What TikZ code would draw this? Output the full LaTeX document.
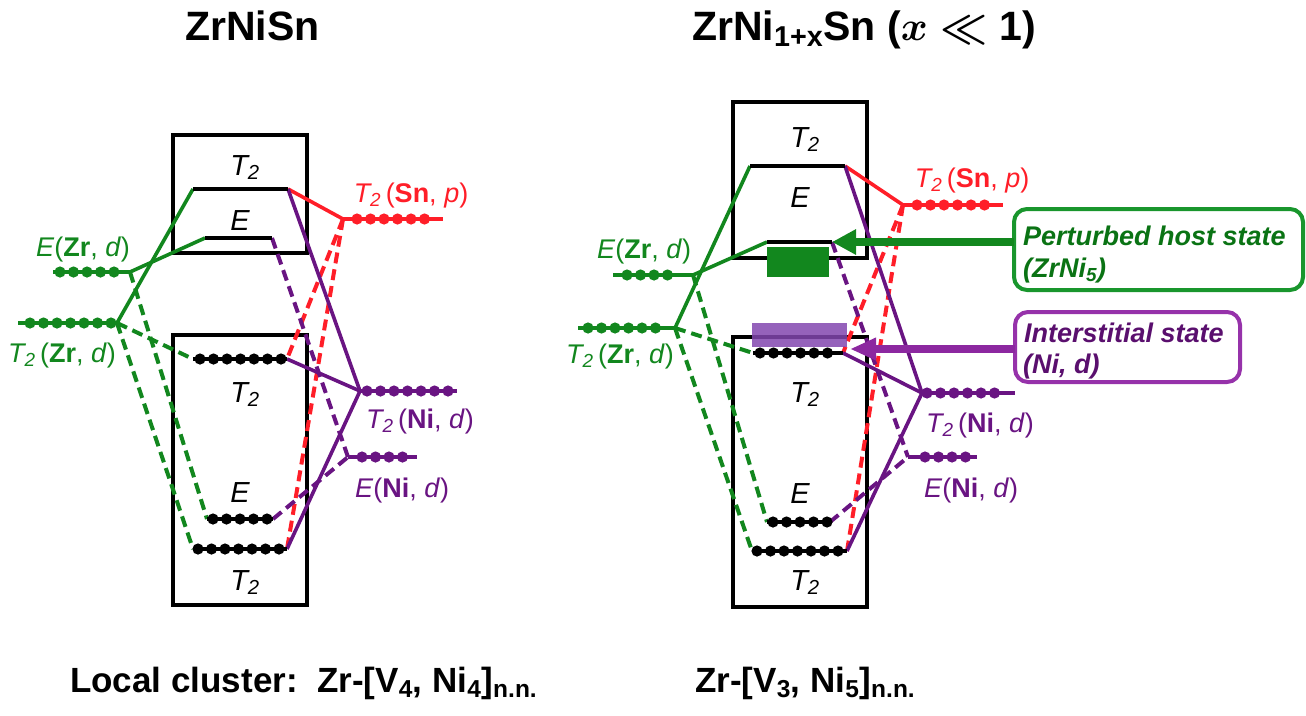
\RequirePackage{fix-cm}
\documentclass[tikz,border=0pt]{standalone}
\usepackage{fontspec}
\setmainfont{Liberation Sans}
\usetikzlibrary{calc,arrows.meta,decorations.markings}
\definecolor{gr}{RGB}{18,135,30}
\definecolor{grtxt}{RGB}{10,115,20}
\definecolor{grbox}{RGB}{25,150,45}
\definecolor{rd}{RGB}{255,30,40}
\definecolor{pu}{RGB}{105,20,130}
\definecolor{pubox}{RGB}{150,50,170}
\definecolor{putxt}{RGB}{90,15,110}
\definecolor{purect}{RGB}{130,70,175}
\definecolor{puarrow}{RGB}{140,40,160}
\newcommand\dotlev[5]{%
  \draw[lv,#1] (#2) -- (#3);
  \path[decorate,decoration={markings,mark=between positions 0 and 1 step 13.5pt with {\fill[#1] (0,0) circle (5.6pt);}}] ($(#2)+(#4,0)$) -- ($(#3)-(#5,0)$);
}
\begin{document}
\begin{tikzpicture}[x=1pt,y=-1pt,
  boxst/.style={draw=black,line width=4.5pt},
  lv/.style={line width=4.5pt},
  sconn/.style={line width=3.6pt},
  dconn/.style={line width=4pt,dash pattern=on 11pt off 6pt},
  lbl/.style={font=\fontsize{27}{32}\selectfont,anchor=base,inner sep=0pt},
  blbl/.style={font=\fontsize{29}{34}\selectfont\itshape,anchor=base,inner sep=0pt},
  ttl/.style={font=\fontsize{41}{48}\selectfont\bfseries,anchor=base west,inner sep=0pt},
  btm/.style={font=\fontsize{35}{40}\selectfont\bfseries,anchor=base west,inner sep=0pt},
  boxtxt/.style={font=\fontsize{27}{32}\selectfont\bfseries\itshape,anchor=base west,inner sep=0pt},
]
\useasboundingbox (0,0) rectangle (1306,715);

% ---------- titles ----------
\node[ttl] (T1) at (185,40) {ZrNiSn};
\node[ttl] (T2) at (692,40) {ZrNi\textsubscript{1+x}Sn ({\boldmath$x \ll$} 1)};
\node[btm] (B1) at (70,692) {Local cluster:\ \ Zr-[V\textsubscript{4}, Ni\textsubscript{4}]\textsubscript{n.n.}};
\node[btm] (B2) at (695,692) {Zr-[V\textsubscript{3}, Ni\textsubscript{5}]\textsubscript{n.n.}};

% ---------- left coordinates ----------
\coordinate (LUT2a) at (193,189); \coordinate (LUT2b) at (288,189);
\coordinate (LUEa) at (205,238);  \coordinate (LUEb) at (272,238);
\coordinate (LLT2a) at (193,359); \coordinate (LLT2b) at (287,359);
\coordinate (LLEa) at (207,519);  \coordinate (LLEb) at (273,519);
\coordinate (LBT2a) at (193,549); \coordinate (LBT2b) at (287,549);
\coordinate (LZrEa) at (53,272);  \coordinate (LZrEb) at (130,272);
\coordinate (LZrTa) at (18,323);  \coordinate (LZrTb) at (117,323);
\coordinate (LSna) at (343,219);  \coordinate (LSnb) at (443,219);
\coordinate (LNiTa) at (360,391); \coordinate (LNiTb) at (457,391);
\coordinate (LNiEa) at (348,457); \coordinate (LNiEb) at (417,457);

% ---------- right coordinates ----------
\coordinate (RUT2a) at (750,166); \coordinate (RUT2b) at (845,166);
\coordinate (RUEa) at (767,242);  \coordinate (RUEb) at (832,242);
\coordinate (RLT2a) at (753,353); \coordinate (RLT2b) at (843,353);
\coordinate (RLEa) at (767,522);  \coordinate (RLEb) at (830,522);
\coordinate (RBT2a) at (752,551); \coordinate (RBT2b) at (847,551);
\coordinate (RZrEa) at (613,275); \coordinate (RZrEb) at (693,275);
\coordinate (RZrTa) at (578,328); \coordinate (RZrTb) at (675,328);
\coordinate (RSna) at (903,205);  \coordinate (RSnb) at (1003,205);
\coordinate (RNiTa) at (922,393); \coordinate (RNiTb) at (1015,393);
\coordinate (RNiEa) at (908,457); \coordinate (RNiEb) at (977,457);

% ---------- boxes ----------
\draw[boxst] (173,135) rectangle (307,253);
\draw[boxst] (173,335) rectangle (307,605);
\draw[boxst] (733,102) rectangle (867,258);
\draw[boxst] (733,337) rectangle (867,607);

% ---------- left connectors ----------
\draw[sconn,gr] (LZrEb) -- (LUEa);
\draw[sconn,gr] (LZrTb) -- (LUT2a);
\draw[dconn,gr] (LZrTb) -- (LLT2a);
\draw[dconn,gr] (LZrTb) -- (LBT2a);
\draw[dconn,gr] (LZrEb) -- (LLEa);
\draw[sconn,rd] (LUT2b) -- (LSna);
\draw[dconn,rd] (LSna) -- (LLT2b);
\draw[dconn,rd] (LSna) -- (LBT2b);
\draw[sconn,pu] (LUT2b) -- (LNiTa);
\draw[sconn,pu] (LLT2b) -- (LNiTa);
\draw[sconn,pu] (LBT2b) -- (LNiTa);
\draw[dconn,pu] (LUEb) -- (LNiEa);
\draw[dconn,pu] (LLEb) -- (LNiEa);

% ---------- right connectors ----------
\draw[sconn,gr] (RZrEb) -- (RUEa);
\draw[sconn,gr] (RZrTb) -- (RUT2a);
\draw[dconn,gr] (RZrTb) -- (RLT2a);
\draw[dconn,gr] (RZrTb) -- (RBT2a);
\draw[dconn,gr] (RZrEb) -- (RLEa);
\draw[sconn,rd] (RUT2b) -- (RSna);
\draw[dconn,rd] (RSna) -- (RLT2b);
\draw[dconn,rd] (RSna) -- (RBT2b);
\draw[sconn,pu] (RUT2b) -- (RNiTa);
\draw[sconn,pu] (RLT2b) -- (RNiTa);
\draw[sconn,pu] (RBT2b) -- (RNiTa);
\draw[dconn,pu] (RUEb) -- (RNiEa);
\draw[dconn,pu] (RLEb) -- (RNiEa);

% ---------- left levels ----------
\draw[lv,black] (LUT2a) -- (LUT2b);
\draw[lv,black] (LUEa) -- (LUEb);
\dotlev{black}{LLT2a}{LLT2b}{7}{4}
\dotlev{black}{LLEa}{LLEb}{6}{6}
\dotlev{black}{LBT2a}{LBT2b}{5}{5}
\dotlev{gr}{LZrEa}{LZrEb}{7}{15}
\dotlev{gr}{LZrTa}{LZrTb}{12}{5}
\dotlev{rd}{LSna}{LSnb}{14}{8}
\dotlev{pu}{LNiTa}{LNiTb}{7}{9}
\dotlev{pu}{LNiEa}{LNiEb}{14}{6}

% ---------- right levels ----------
\draw[lv,black] (RUT2a) -- (RUT2b);
\draw[lv,black] (RUEa) -- (RUEb);
\dotlev{black}{RLT2a}{RLT2b}{7}{3}
\dotlev{black}{RLEa}{RLEb}{6}{3}
\dotlev{black}{RBT2a}{RBT2b}{5}{8}
\dotlev{gr}{RZrEa}{RZrEb}{14}{18}
\dotlev{gr}{RZrTa}{RZrTb}{10}{8}
\dotlev{rd}{RSna}{RSnb}{14}{10}
\dotlev{pu}{RNiTa}{RNiTb}{5}{8}
\dotlev{pu}{RNiEa}{RNiEb}{17}{2}

% ---------- state rectangles ----------
\node[fill=gr,inner sep=0pt,outer sep=0pt,minimum width=62pt,minimum height=30pt,anchor=north west] (GRect) at (767,247) {};
\node[fill=purect,fill opacity=0.85,inner sep=0pt,outer sep=0pt,minimum width=95pt,minimum height=24pt,anchor=north west] (PRect) at (752,323) {};

% ---------- annotation boxes ----------
\node[draw=grbox,line width=4pt,rounded corners=13pt,inner sep=0pt,outer sep=0pt,minimum width=289pt,minimum height=81pt,anchor=north west] (GBox) at (1014,209) {};
\node[boxtxt,text=grtxt] (GBt1) at (1023,245) {Perturbed host state};
\node[boxtxt,text=grtxt] (GBt2) at (1023,277) {(ZrNi\textsubscript{5})};
\node[draw=pubox,line width=4pt,rounded corners=13pt,inner sep=0pt,outer sep=0pt,minimum width=225pt,minimum height=70pt,anchor=north west] (PBox) at (1015,312) {};
\node[boxtxt,text=putxt] (PBt1) at (1024,342) {Interstitial state};
\node[boxtxt,text=putxt] (PBt2) at (1023,373) {(Ni, d)};

% ---------- arrows ----------
\coordinate (PTip) at (850,349);
\draw[gr,line width=8pt,-{Triangle[length=24pt,width=24pt]}] (GBox.west |- RUEb) -- (RUEb);
\draw[puarrow,line width=8pt,-{Triangle[length=26pt,width=21pt]}] (PBox.west |- PTip) -- (PTip);

% ---------- left labels ----------
\node[blbl] (LlUT2) at (245,175) {T\textsubscript{2}};
\node[blbl] (LlUE) at (240,230) {E};
\node[blbl] (LlLT2) at (245,402) {T\textsubscript{2}};
\node[blbl] (LlLE) at (240,502) {E};
\node[blbl] (LlBT2) at (245,590) {T\textsubscript{2}};
\node[lbl,text=gr] (LlZrE) at (83,256) {\textit{E}(\textbf{Zr}, \textit{d})};
\node[lbl,text=gr] (LlZrT) at (62,362) {\textit{T\textsubscript{2}}\,(\textbf{Zr}, \textit{d})};
\node[lbl,text=rd] (LlSn) at (411,202) {\textit{T\textsubscript{2}}\,(\textbf{Sn}, \textit{p})};
\node[lbl,text=pu] (LlNiT) at (420,428) {\textit{T\textsubscript{2}}\,(\textbf{Ni}, \textit{d})};
\node[lbl,text=pu] (LlNiE) at (402,497) {\textit{E}(\textbf{Ni}, \textit{d})};

% ---------- right labels ----------
\node[blbl] (RlUT2) at (805,147) {T\textsubscript{2}};
\node[blbl] (RlUE) at (800,207) {E};
\node[blbl] (RlLT2) at (805,402) {T\textsubscript{2}};
\node[blbl] (RlLE) at (800,503) {E};
\node[blbl] (RlBT2) at (805,590) {T\textsubscript{2}};
\node[lbl,text=gr] (RlZrE) at (644,258) {\textit{E}(\textbf{Zr}, \textit{d})};
\node[lbl,text=gr] (RlZrT) at (620,363) {\textit{T\textsubscript{2}}\,(\textbf{Zr}, \textit{d})};
\node[lbl,text=rd] (RlSn) at (972,187) {\textit{T\textsubscript{2}}\,(\textbf{Sn}, \textit{p})};
\node[lbl,text=pu] (RlNiT) at (980,432) {\textit{T\textsubscript{2}}\,(\textbf{Ni}, \textit{d})};
\node[lbl,text=pu] (RlNiE) at (971,497) {\textit{E}(\textbf{Ni}, \textit{d})};
\end{tikzpicture}
\end{document}
